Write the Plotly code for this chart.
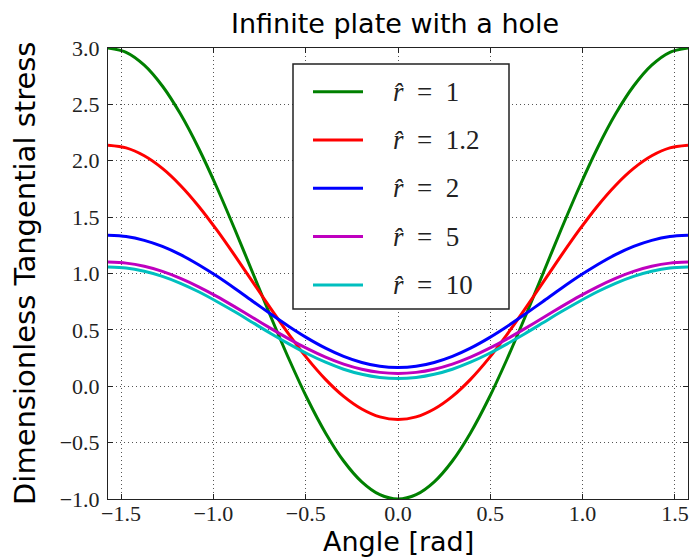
import plotly.graph_objects as go

# Angle samples (rad)
angle = [-1.5708, -1.4726, -1.3744, -1.2763, -1.1781, -1.0799, -0.9817, -0.8836,
         -0.7854, -0.6872, -0.5890, -0.4909, -0.3927, -0.2945, -0.1963, -0.0982, 0.0,
         0.0982, 0.1963, 0.2945, 0.3927, 0.4909, 0.5890, 0.6872, 0.7854,
         0.8836, 0.9817, 1.0799, 1.1781, 1.2763, 1.3744, 1.4726, 1.5708]

# Dimensionless tangential stress
stress_r1 = [3.000, 2.962, 2.848, 2.663, 2.414, 2.111, 1.765, 1.390,
             1.000, 0.610, 0.235, -0.111, -0.414, -0.663, -0.848, -0.962, -1.000,
             -0.962, -0.848, -0.663, -0.414, -0.111, 0.235, 0.610, 1.000,
             1.390, 1.765, 2.111, 2.414, 2.663, 2.848, 2.962, 3.000]
stress_r1_2 = [2.137, 2.114, 2.044, 1.932, 1.781, 1.597, 1.386, 1.158,
               0.921, 0.684, 0.456, 0.245, 0.061, -0.090, -0.202, -0.272, -0.295,
               -0.272, -0.202, -0.090, 0.061, 0.245, 0.456, 0.684, 0.921,
               1.158, 1.386, 1.597, 1.781, 1.932, 2.044, 2.114, 2.137]
stress_r2 = [1.339, 1.328, 1.294, 1.240, 1.167, 1.078, 0.977, 0.867,
             0.752, 0.638, 0.528, 0.427, 0.338, 0.265, 0.211, 0.177, 0.166,
             0.177, 0.211, 0.265, 0.338, 0.427, 0.528, 0.638, 0.752,
             0.867, 0.977, 1.078, 1.167, 1.240, 1.294, 1.328, 1.339]
stress_r5 = [1.102, 1.092, 1.064, 1.019, 0.957, 0.882, 0.797, 0.704,
             0.608, 0.511, 0.418, 0.333, 0.258, 0.196, 0.151, 0.123, 0.113,
             0.123, 0.151, 0.196, 0.258, 0.333, 0.418, 0.511, 0.608,
             0.704, 0.797, 0.882, 0.957, 1.019, 1.064, 1.092, 1.102]
stress_r10 = [1.058, 1.049, 1.020, 0.975, 0.913, 0.838, 0.752, 0.660,
              0.563, 0.466, 0.374, 0.288, 0.213, 0.151, 0.106, 0.078, 0.068,
              0.078, 0.106, 0.151, 0.213, 0.288, 0.374, 0.466, 0.563,
              0.660, 0.752, 0.838, 0.913, 0.975, 1.020, 1.049, 1.058]

series_labels = ["1", "1.2", "2", "5", "10"]
series_values = [stress_r1, stress_r1_2, stress_r2, stress_r5, stress_r10]
series_colors = ["#008000", "#ff0000", "#0000ff", "#bf00bf", "#00bfbf"]

x_tickvals = [-1.5, -1.0, -0.5, 0.0, 0.5, 1.0, 1.5]
x_ticktext = ["\u22121.5", "\u22121.0", "\u22120.5", "0.0", "0.5", "1.0", "1.5"]
y_tickvals = [-1.0, -0.5, 0.0, 0.5, 1.0, 1.5, 2.0, 2.5, 3.0]
y_ticktext = ["\u22121.0", "\u22120.5", "0.0", "0.5", "1.0", "1.5", "2.0", "2.5", "3.0"]

title_text = "Infinite plate with a hole"
x_title = "Angle [rad]"
y_title = "Dimensionless Tangential stress"

SERIF = "Liberation Serif, DejaVu Serif, serif"
SANS = "DejaVu Sans, sans-serif"

fig = go.Figure()
for lab, vals, col in zip(series_labels, series_values, series_colors):
    fig.add_trace(go.Scatter(
        x=angle, y=vals, mode="lines", name=lab,
        line=dict(color=col, width=3, shape="spline", smoothing=0.8),
        showlegend=False, hoverinfo="skip",
    ))

axis_common = dict(
    showgrid=True, gridcolor="#555555", gridwidth=1, griddash="1px,3px",
    zeroline=False, showline=True, linecolor="#222222", linewidth=1,
    mirror="ticks", ticks="inside", ticklen=5, tickwidth=1, tickcolor="#222222",
    tickfont=dict(family=SERIF, size=22, color="#222222"),
    automargin=False,
)
fig.update_xaxes(range=[-1.5708, 1.5708], tickvals=x_tickvals, ticktext=x_ticktext,
                 ticklabelstandoff=-5, **axis_common)
fig.update_yaxes(range=[-1.0, 3.0], tickvals=y_tickvals, ticktext=y_ticktext,
                 ticklabelstandoff=3, **axis_common)

# Manual legend box (layout only)
W, H, L, T = 580.0, 451.0, 108.0, 48.0
def px(xp):
    return (xp - L) / W
def py(yp):
    return (T + H - yp) / H

shapes = [dict(type="rect", xref="paper", yref="paper",
               x0=px(293), x1=px(509), y0=py(309), y1=py(64),
               line=dict(color="#222222", width=1.5), fillcolor="white", layer="above")]
annotations = []
row0, step = 91.7, 48.3
for i, (lab, col) in enumerate(zip(series_labels, series_colors)):
    yc = row0 + i * step
    shapes.append(dict(type="line", xref="paper", yref="paper",
                       x0=px(313), x1=px(363), y0=py(yc), y1=py(yc),
                       line=dict(color=col, width=3), layer="above"))
    annotations.append(dict(xref="paper", yref="paper", x=px(391), y=py(yc),
                            xanchor="left", yanchor="middle", showarrow=False,
                            text="<i>r\u0302</i>\u2002=\u2002" + lab,
                            font=dict(family=SERIF, size=27, color="#222222")))

annotations.append(dict(xref="paper", yref="paper", x=px(395), y=py(23),
                        xanchor="center", yanchor="middle", showarrow=False,
                        text=title_text, font=dict(family=SANS, size=27, color="black")))
annotations.append(dict(xref="paper", yref="paper", x=px(398.7), y=py(541),
                        xanchor="center", yanchor="middle", showarrow=False,
                        text=x_title, font=dict(family=SANS, size=27, color="black")))
annotations.append(dict(xref="paper", yref="paper", x=px(25), y=py(274),
                        xanchor="center", yanchor="middle", showarrow=False, textangle=-90,
                        text=y_title, font=dict(family=SANS, size=29, color="black")))

fig.update_layout(
    template="none",
    width=689, height=558,
    margin=dict(l=108, r=1, t=48, b=59, autoexpand=False),
    paper_bgcolor="white", plot_bgcolor="white",
    shapes=shapes, annotations=annotations,
    showlegend=False,
)

fig.write_html("out.html", config={"displayModeBar": False, "staticPlot": True},
               post_script="document.body.style.margin='0px';document.body.style.overflow='hidden';")
